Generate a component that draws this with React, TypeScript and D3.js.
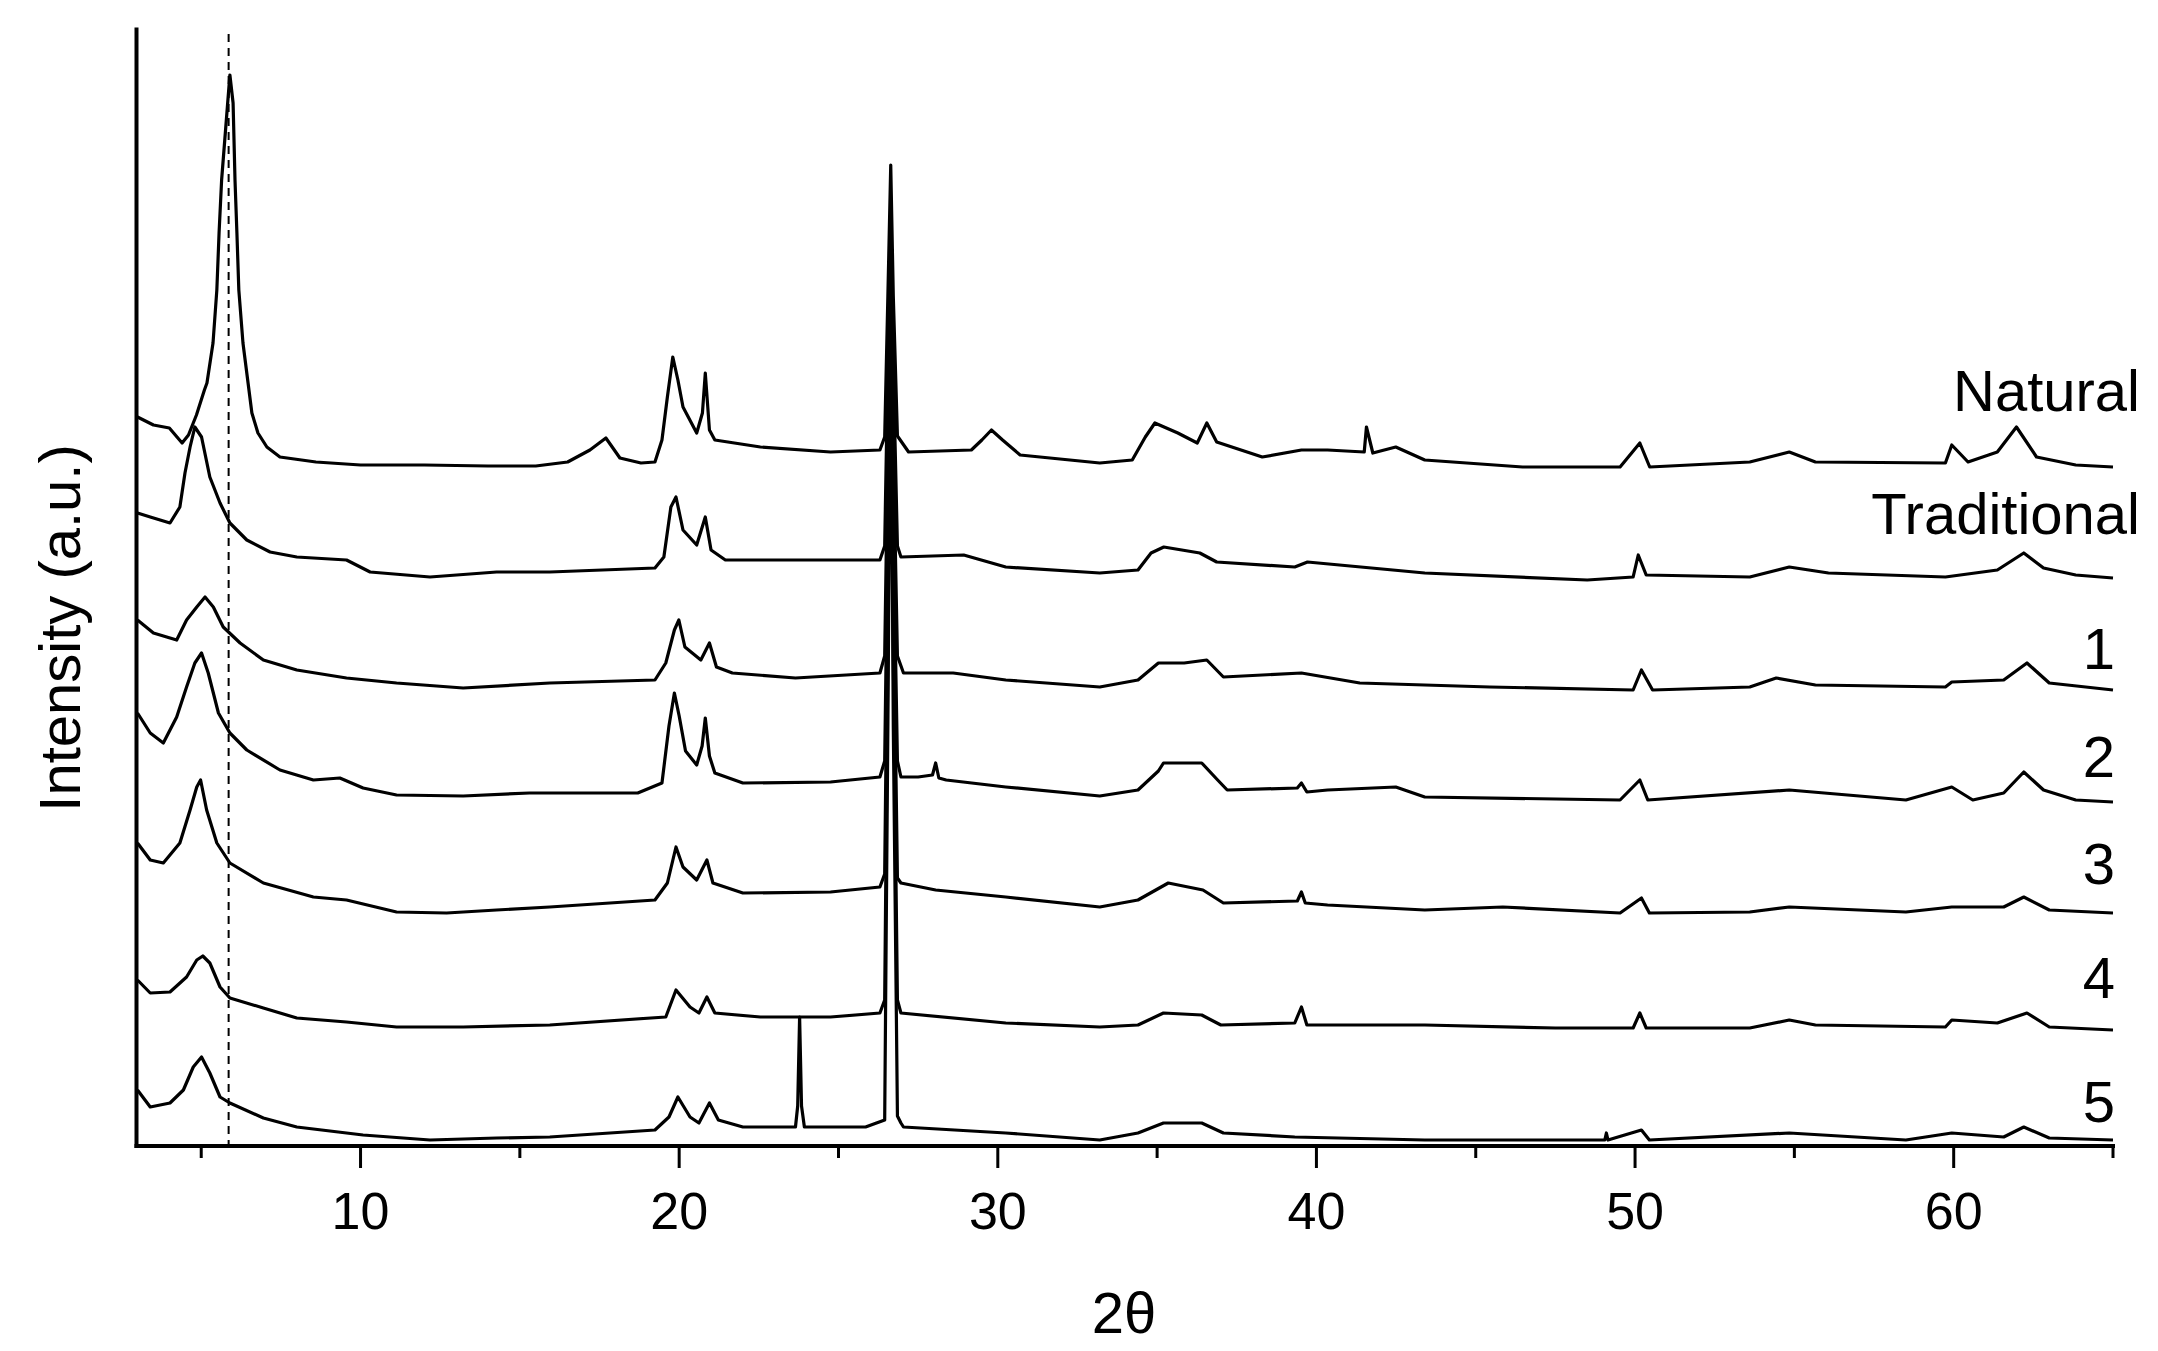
import React from "react";
import * as d3 from "d3";

// 2θ (degrees) vs stacked intensity (a.u.)
const natural: [number, number][] = [
  [3.0,729],[3.5,721],[4.0,718],[4.4,703],[4.6,711],[4.85,731],[5.1,756],[5.18,763],[5.37,803],[5.49,856],[5.56,913],[5.64,966],[5.83,1043],[5.9,1071],[6.0,1043],[6.06,966],[6.12,913],[6.18,856],[6.31,803],[6.47,763],[6.59,733],[6.78,713],[7.06,699],[7.47,689],[8.6,684],[10,681],[12,681],[14,680],[15.5,680],[16.5,684],[17.2,696],[17.7,708],[18.14,688],[18.8,683],[19.24,684],[19.46,706],[19.63,749],[19.8,789],[19.96,766],[20.12,739],[20.55,713],[20.73,733],[20.82,773],[20.95,716],[21.12,706],[22.55,699],[24.75,694],[26.3,696],[26.45,709],[26.55,850],[26.64,981],[26.72,850],[26.85,710],[27.2,694],[29.17,696],[29.5,706],[29.8,716],[30.15,706],[30.7,691],[33.2,683],[34.22,686],[34.63,709],[34.93,723],[35.65,713],[36.26,703],[36.56,723],[36.87,704],[38.3,689],[39.53,696],[40.35,696],[41.5,694],[41.57,719],[41.77,693],[42.49,699],[43.4,686],[46.47,679],[49.53,679],[50.15,703],[50.46,679],[53.6,684],[54.84,694],[55.66,684],[59.74,683],[59.94,701],[60.45,684],[61.37,694],[61.97,719],[62.6,689],[63.83,681],[65,679]
];
const traditional: [number, number][] = [
  [3.0,633],[3.4,629],[4.02,623],[4.33,639],[4.49,673],[4.65,699],[4.8,719],[5.01,709],[5.27,669],[5.59,643],[5.9,623],[6.43,606],[7.16,594],[8.0,589],[9.56,586],[10.3,574],[12.18,569],[14.27,574],[15.94,574],[19.24,578],[19.52,589],[19.74,639],[19.9,649],[20.12,616],[20.55,601],[20.82,629],[21.0,596],[21.45,586],[23.65,586],[26.3,586],[26.45,600],[26.55,780],[26.64,920],[26.72,780],[26.85,600],[26.96,589],[28.93,591],[30.25,579],[33.2,573],[34.4,576],[34.81,593],[35.21,599],[36.34,593],[36.87,584],[39.32,579],[39.72,584],[43.4,573],[48.5,566],[49.94,569],[50.1,591],[50.35,571],[53.6,569],[54.84,579],[56.07,573],[59.74,569],[61.37,576],[62.2,593],[62.82,578],[63.83,571],[65,568]
];
const sample1: [number, number][] = [
  [3.0,526],[3.5,513],[4.23,506],[4.54,526],[4.86,539],[5.12,549],[5.38,539],[5.69,519],[6.22,503],[6.95,486],[8.0,476],[9.56,468],[11.13,463],[13.22,458],[15.94,463],[19.24,466],[19.58,483],[19.85,516],[19.99,526],[20.18,499],[20.68,486],[20.95,503],[21.17,479],[21.67,473],[23.65,468],[26.3,473],[26.45,490],[26.55,700],[26.64,900],[26.72,700],[26.85,490],[27.04,473],[28.6,473],[30.25,466],[33.2,459],[34.4,466],[35.04,483],[35.85,483],[36.56,486],[37.08,469],[39.53,473],[41.36,463],[45.44,459],[49.94,456],[50.2,476],[50.55,456],[53.6,459],[54.43,468],[55.66,461],[59.74,459],[59.94,464],[61.57,466],[62.3,483],[63.0,463],[65,456]
];
const sample2: [number, number][] = [
  [3.0,433],[3.4,413],[3.81,403],[4.23,429],[4.54,459],[4.8,483],[5.01,493],[5.22,473],[5.54,433],[5.9,413],[6.43,396],[7.47,376],[8.52,366],[9.35,368],[10.08,358],[11.13,351],[13.22,350],[15.3,353],[15.94,353],[18.7,353],[19.46,363],[19.68,420],[19.85,453],[20.0,430],[20.2,395],[20.55,381],[20.72,400],[20.82,428],[20.95,390],[21.12,373],[22.0,363],[24.75,364],[26.3,369],[26.45,385],[26.55,620],[26.64,880],[26.72,620],[26.85,385],[26.96,369],[27.5,369],[27.95,371],[28.05,383],[28.15,368],[28.38,366],[30.25,359],[33.2,350],[34.4,356],[35.04,375],[35.2,383],[36.4,383],[36.9,366],[37.2,356],[39.4,358],[39.53,363],[39.7,354],[40.35,356],[42.49,359],[43.4,349],[49.53,346],[50.15,366],[50.4,346],[54.84,356],[58.5,346],[59.94,359],[60.6,346],[61.57,353],[62.2,374],[62.82,356],[63.83,346],[65,344]
];
const sample3: [number, number][] = [
  [3.0,303],[3.4,286],[3.81,283],[4.33,303],[4.65,336],[4.86,359],[4.98,366],[5.17,336],[5.49,303],[5.9,283],[6.95,263],[8.52,249],[9.56,246],[11.13,234],[12.7,233],[14.27,236],[15.94,239],[19.24,246],[19.63,263],[19.9,299],[20.12,279],[20.55,266],[20.87,286],[21.06,263],[22.0,253],[24.75,254],[26.3,259],[26.45,272],[26.55,560],[26.64,860],[26.72,560],[26.85,268],[26.96,263],[28.05,256],[30.25,249],[33.2,239],[34.4,246],[35.35,263],[36.44,256],[37.08,243],[39.4,245],[39.53,254],[39.65,243],[40.35,241],[43.4,236],[45.85,239],[49.53,233],[50.2,248],[50.45,233],[53.6,234],[54.84,239],[58.5,234],[59.94,239],[61.57,239],[62.2,249],[63.0,236],[65,233]
];
const sample4: [number, number][] = [
  [3.0,166],[3.4,153],[4.02,154],[4.54,169],[4.86,186],[5.05,190],[5.27,183],[5.59,159],[5.9,148],[6.95,138],[8.0,128],[9.56,124],[11.13,119],[13.22,119],[15.94,121],[19.58,129],[19.9,156],[20.34,139],[20.62,133],[20.87,149],[21.12,133],[22.55,129],[24.75,129],[26.3,133],[26.45,146],[26.55,490],[26.64,840],[26.72,490],[26.85,146],[26.96,133],[30.25,123],[33.2,119],[34.4,121],[35.2,133],[36.4,131],[37.0,121],[39.32,123],[39.53,139],[39.7,121],[43.4,121],[47.5,118],[49.94,118],[50.15,133],[50.35,118],[53.6,118],[54.84,126],[55.66,121],[59.74,119],[59.94,126],[61.37,123],[62.3,133],[63.0,119],[65,116]
];
const sample5: [number, number][] = [
  [3.0,56],[3.4,39],[4.02,43],[4.44,56],[4.75,79],[5.01,89],[5.27,73],[5.59,49],[5.9,43],[6.95,28],[8.0,19],[10.08,11],[12.18,6],[14.27,8],[15.94,9],[19.24,16],[19.68,29],[19.96,49],[20.34,29],[20.62,23],[20.95,43],[21.23,26],[22.0,19],[23.65,19],[23.72,40],[23.78,129],[23.84,40],[23.93,19],[25.85,19],[26.45,26],[26.55,420],[26.64,820],[26.72,420],[26.85,30],[26.96,23],[27.04,19],[30.25,13],[33.2,6],[34.4,13],[35.2,23],[36.4,23],[37.08,13],[39.32,9],[43.4,6],[49.05,6],[49.1,13],[49.15,6],[50.2,16],[50.45,6],[54.84,13],[58.5,6],[59.94,13],[61.57,9],[62.2,19],[63.0,8],[65,6]
];

const seriesNames = ["Natural", "Traditional", "1", "2", "3", "4", "5"];
const majorTicks = [10, 20, 30, 40, 50, 60];
const minorTicks = [5, 15, 25, 35, 45, 55, 65];
const referenceTheta = 5.86;
const xDomain: [number, number] = [3, 65];
const yDomain: [number, number] = [0, 1118.5];

export default function App() {
  const W = 2158, H = 1351;
  const left = 137.5, right = 2113, top = 27.5, bottom = 1146;
  const x = d3.scaleLinear().domain(xDomain).range([left, right]);
  const y = d3.scaleLinear().domain(yDomain).range([bottom, top]);
  const line = d3.line<[number, number]>().x(d => x(d[0])).y(d => y(d[1])).curve(d3.curveLinear);
  const allSeries = [natural, traditional, sample1, sample2, sample3, sample4, sample5];
  const labelY = [411, 534, 669, 777, 884, 998, 1122];
  const labelX = [2140, 2140, 2115, 2115, 2115, 2115, 2115];
  const font = "'Liberation Sans', Arial, sans-serif";

  return (
    <svg width={W} height={H} style={{ position: "absolute", left: 0, top: 0, background: "#fff" }}>
      <rect x={0} y={0} width={W} height={H} fill="#fff" />
      <line x1={x(referenceTheta)} x2={x(referenceTheta)} y1={34} y2={bottom} stroke="#000" strokeWidth={2} strokeDasharray="8,6" />
      {allSeries.map((s, i) => (
        <path key={i} d={line(s) || ""} fill="none" stroke="#000" strokeWidth={3.2} strokeLinejoin="round" />
      ))}
      <line x1={left - 1} x2={left - 1} y1={top} y2={bottom + 2} stroke="#000" strokeWidth={4} />
      <line x1={left - 3} x2={right + 2} y1={bottom} y2={bottom} stroke="#000" strokeWidth={4} />
      {majorTicks.map(t => (
        <g key={"M" + t}>
          <line x1={x(t)} x2={x(t)} y1={bottom} y2={bottom + 22} stroke="#000" strokeWidth={3} />
          <text x={x(t)} y={1229} textAnchor="middle" fontFamily={font} fontSize={52} fill="#000">{t}</text>
        </g>
      ))}
      {minorTicks.map(t => (
        <line key={"m" + t} x1={x(t)} x2={x(t)} y1={bottom} y2={bottom + 12} stroke="#000" strokeWidth={3} />
      ))}
      <text x={1124} y={1333} textAnchor="middle" fontFamily={font} fontSize={58} fill="#000">2θ</text>
      <text transform={`translate(80,${628}) rotate(-90)`} textAnchor="middle" fontFamily={font} fontSize={58} fill="#000">Intensity (a.u.)</text>
      {seriesNames.map((n, i) => (
        <text key={n} x={labelX[i]} y={labelY[i]} textAnchor="end" fontFamily={font} fontSize={58} fill="#000">{n}</text>
      ))}
    </svg>
  );
}
